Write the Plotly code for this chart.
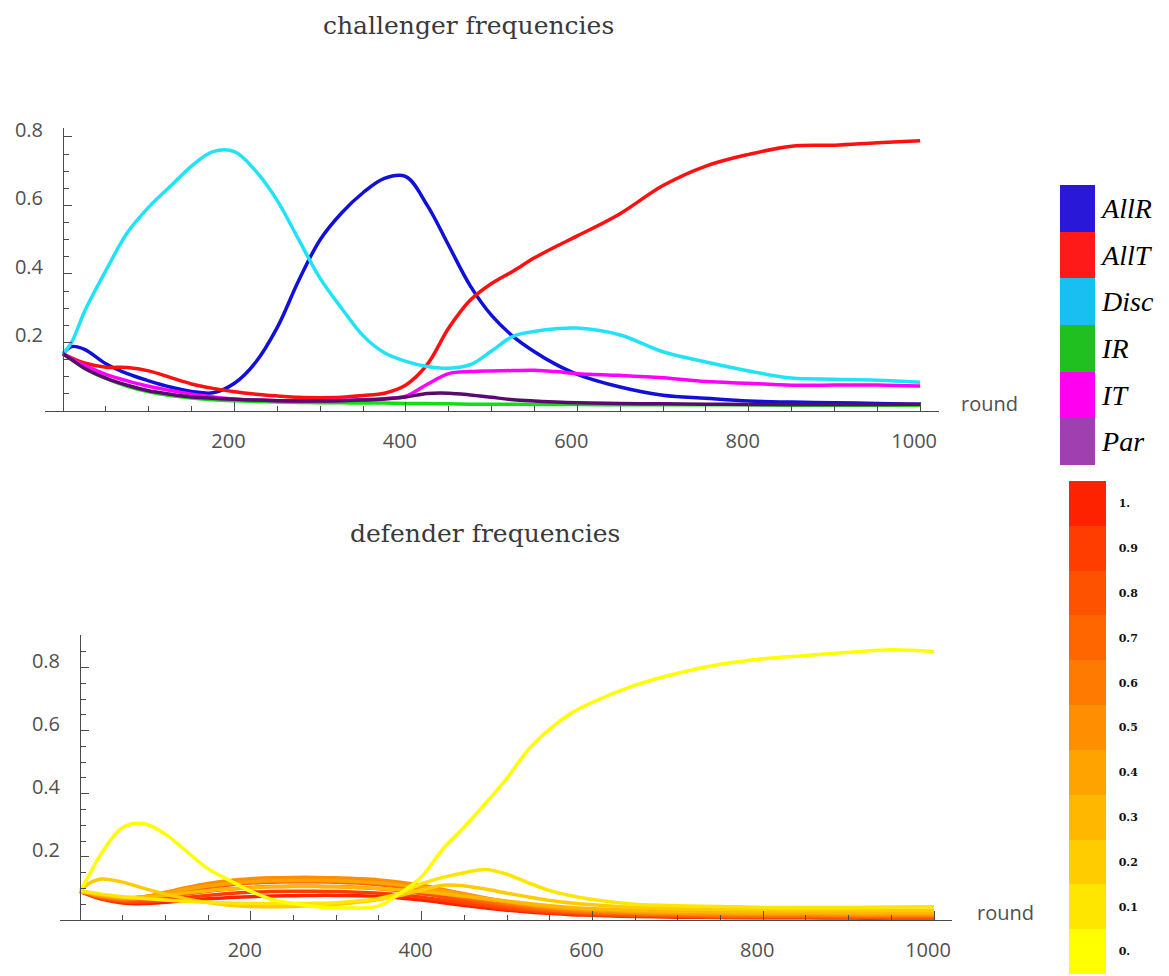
import plotly.graph_objects as go

# ---------------- data ----------------
rounds = [0, 10, 25, 50, 75, 100, 125, 150, 175, 200, 225, 250, 275, 300, 325, 350, 375,
          400, 425, 450, 475, 500, 525, 550, 575, 600, 650, 700, 750, 800, 850, 900, 950, 1000]

# challenger strategies
ch_names = ["AllR", "AllT", "Disc", "IR", "IT", "Par"]
allr = [0.167, 0.188, 0.18, 0.138, 0.109, 0.088, 0.07, 0.057, 0.053, 0.081, 0.143, 0.244, 0.381, 0.50, 0.578, 0.637, 0.679,
        0.684, 0.60, 0.483, 0.366, 0.279, 0.218, 0.173, 0.136, 0.107, 0.07, 0.046, 0.037, 0.029, 0.026, 0.024, 0.022, 0.02]
allt = [0.167, 0.155, 0.14, 0.128, 0.127, 0.117, 0.098, 0.079, 0.066, 0.056, 0.049, 0.044, 0.04, 0.039, 0.04, 0.045, 0.052,
        0.076, 0.136, 0.242, 0.323, 0.372, 0.408, 0.447, 0.48, 0.511, 0.576, 0.658, 0.715, 0.749, 0.773, 0.776, 0.783, 0.789]
disc = [0.167, 0.20, 0.29, 0.41, 0.52, 0.595, 0.655, 0.715, 0.757, 0.757, 0.70, 0.614, 0.50, 0.387, 0.30, 0.22, 0.17,
        0.145, 0.13, 0.125, 0.135, 0.175, 0.218, 0.232, 0.24, 0.242, 0.222, 0.173, 0.143, 0.117, 0.096, 0.093, 0.09, 0.084]
ir = [0.167, 0.15, 0.125, 0.095, 0.072, 0.056, 0.045, 0.038, 0.033, 0.03, 0.028, 0.026, 0.025, 0.024, 0.024, 0.023, 0.023,
      0.022, 0.022, 0.021, 0.02, 0.02, 0.02, 0.019, 0.019, 0.019, 0.018, 0.018, 0.018, 0.018, 0.017, 0.017, 0.017, 0.017]
it = [0.167, 0.152, 0.133, 0.107, 0.088, 0.072, 0.06, 0.049, 0.041, 0.035, 0.032, 0.03, 0.029, 0.03, 0.031, 0.033, 0.036,
      0.043, 0.078, 0.109, 0.115, 0.117, 0.118, 0.119, 0.115, 0.109, 0.104, 0.097, 0.086, 0.081, 0.075, 0.076, 0.076, 0.073]
par = [0.167, 0.15, 0.125, 0.096, 0.075, 0.059, 0.049, 0.041, 0.037, 0.034, 0.032, 0.03, 0.029, 0.029, 0.03, 0.032, 0.035,
       0.041, 0.051, 0.052, 0.047, 0.04, 0.033, 0.029, 0.026, 0.024, 0.022, 0.021, 0.02, 0.019, 0.019, 0.019, 0.019, 0.02]
ch_values = [allr, allt, disc, ir, it, par]
ch_line_colors = ["#1010d8", "#ff1010", "#22e2f8", "#10e010", "#ff00ff", "#5a0a6e"]
ch_legend_colors = ["#2a18d8", "#ff1a1a", "#18bff0", "#20c020", "#ff00f0", "#a040b0"]

# defender strategies, indexed by parameter p
def_params = [0.0, 0.1, 0.2, 0.3, 0.4, 0.5, 0.6, 0.7, 0.8, 0.9, 1.0]
def_tick_text = ["0.", "0.1", "0.2", "0.3", "0.4", "0.5", "0.6", "0.7", "0.8", "0.9", "1."]
def_colors = ["#ffff00", "#ffe600", "#ffcc00", "#ffb700", "#ffa300", "#ff8e00",
              "#ff7a00", "#ff6600", "#ff5200", "#ff3d00", "#ff2200"]
d00 = [0.091, 0.139, 0.211, 0.293, 0.305, 0.272, 0.217, 0.162, 0.126, 0.091, 0.065, 0.052, 0.043, 0.039, 0.038, 0.045, 0.085,
       0.137, 0.225, 0.295, 0.37, 0.45, 0.54, 0.605, 0.655, 0.69, 0.744, 0.782, 0.81, 0.828, 0.838, 0.848, 0.856, 0.851]
d01 = [0.091, 0.088, 0.082, 0.074, 0.068, 0.063, 0.059, 0.056, 0.054, 0.053, 0.052, 0.052, 0.053, 0.055, 0.06, 0.068, 0.085,
       0.115, 0.135, 0.15, 0.16, 0.145, 0.118, 0.093, 0.077, 0.065, 0.05, 0.045, 0.043, 0.04, 0.04, 0.04, 0.041, 0.042]
d02 = [0.091, 0.115, 0.13, 0.12, 0.1, 0.082, 0.067, 0.055, 0.047, 0.043, 0.042, 0.043, 0.046, 0.05, 0.056, 0.065, 0.078,
       0.095, 0.11, 0.108, 0.098, 0.085, 0.073, 0.062, 0.054, 0.048, 0.04, 0.036, 0.034, 0.033, 0.032, 0.032, 0.031, 0.031]
d03 = [0.091, 0.087, 0.08, 0.072, 0.072, 0.078, 0.086, 0.093, 0.098, 0.102, 0.105, 0.106, 0.106, 0.105, 0.103, 0.1, 0.095,
       0.09, 0.083, 0.075, 0.067, 0.06, 0.052, 0.045, 0.04, 0.036, 0.031, 0.028, 0.026, 0.025, 0.025, 0.024, 0.024, 0.024]
d04 = [0.091, 0.086, 0.078, 0.07, 0.074, 0.085, 0.098, 0.108, 0.116, 0.121, 0.124, 0.125, 0.125, 0.124, 0.121, 0.117, 0.111,
       0.103, 0.092, 0.08, 0.068, 0.058, 0.049, 0.042, 0.037, 0.033, 0.027, 0.024, 0.022, 0.021, 0.021, 0.02, 0.02, 0.02]
d05 = [0.091, 0.085, 0.076, 0.068, 0.074, 0.088, 0.103, 0.116, 0.125, 0.131, 0.134, 0.135, 0.135, 0.134, 0.131, 0.127, 0.12,
       0.11, 0.097, 0.083, 0.07, 0.058, 0.048, 0.04, 0.034, 0.03, 0.024, 0.021, 0.019, 0.018, 0.018, 0.017, 0.017, 0.017]
d06 = [0.091, 0.084, 0.074, 0.066, 0.071, 0.085, 0.1, 0.112, 0.121, 0.127, 0.13, 0.131, 0.131, 0.13, 0.127, 0.122, 0.115,
       0.104, 0.091, 0.077, 0.064, 0.053, 0.044, 0.036, 0.03, 0.026, 0.021, 0.018, 0.016, 0.015, 0.015, 0.014, 0.014, 0.014]
d07 = [0.091, 0.083, 0.072, 0.063, 0.067, 0.079, 0.092, 0.103, 0.111, 0.117, 0.12, 0.121, 0.121, 0.12, 0.117, 0.112, 0.105,
       0.095, 0.083, 0.07, 0.058, 0.048, 0.039, 0.032, 0.027, 0.023, 0.018, 0.015, 0.013, 0.012, 0.012, 0.011, 0.011, 0.011]
d08 = [0.091, 0.082, 0.07, 0.06, 0.062, 0.071, 0.082, 0.091, 0.098, 0.103, 0.106, 0.107, 0.107, 0.106, 0.103, 0.099, 0.093,
       0.084, 0.073, 0.062, 0.051, 0.042, 0.034, 0.028, 0.023, 0.02, 0.015, 0.013, 0.011, 0.01, 0.01, 0.009, 0.009, 0.009]
d09 = [0.091, 0.081, 0.068, 0.057, 0.057, 0.063, 0.071, 0.078, 0.084, 0.088, 0.09, 0.091, 0.091, 0.09, 0.088, 0.085, 0.08,
       0.072, 0.063, 0.053, 0.044, 0.036, 0.029, 0.024, 0.02, 0.017, 0.013, 0.011, 0.009, 0.008, 0.008, 0.008, 0.007, 0.007]
d10 = [0.091, 0.08, 0.066, 0.054, 0.052, 0.056, 0.062, 0.067, 0.071, 0.074, 0.076, 0.077, 0.078, 0.078, 0.077, 0.075, 0.07,
       0.063, 0.055, 0.046, 0.038, 0.031, 0.025, 0.021, 0.017, 0.015, 0.011, 0.009, 0.008, 0.007, 0.007, 0.006, 0.006, 0.006]
def_values = [d00, d01, d02, d03, d04, d05, d06, d07, d08, d09, d10]

x_major = [200, 400, 600, 800, 1000]
x_minor = [50 * k for k in range(1, 21)]
y_major_top = [0.2, 0.4, 0.6, 0.8]
y_minor_top = [0.05 * k for k in range(1, 16)]
y_major_bot = [0.2, 0.4, 0.6, 0.8]
y_minor_bot = [0.05 * k for k in range(1, 18)]

# ---------------- layout helpers ----------------
W, H = 1169, 976
def fx(p):
    return p / W
def fy(p):
    return 1 - p / H

AX = "#4a4a4a"
TICKFONT = dict(family="Open Sans", size=20, color="#505050")
SMOOTH = 1.0

fig = go.Figure()

for name, vals, col in zip(ch_names, ch_values, ch_line_colors):
    fig.add_trace(go.Scatter(x=rounds, y=vals, mode="lines", name=name,
                             line=dict(color=col, width=3.5, shape="spline", smoothing=SMOOTH),
                             xaxis="x", yaxis="y", hoverinfo="skip"))

# category colour key for the challenger chart
n = len(ch_names)
cs_top = []
for k in range(n):
    c = ch_legend_colors[n - 1 - k]
    cs_top.append([k / n, c])
    cs_top.append([(k + 1) / n, c])
fig.add_trace(go.Scatter(
    x=[rounds[0]] * n, y=[v[0] for v in ch_values], mode="markers", hoverinfo="skip",
    marker=dict(size=1, opacity=0, color=[n - 1 - i for i in range(n)], colorscale=cs_top,
                cmin=-0.5, cmax=n - 0.5, showscale=True,
                colorbar=dict(x=fx(1060), xanchor="left", y=fy(325), yanchor="middle",
                              len=280, lenmode="pixels", thickness=35, thicknessmode="pixels",
                              xpad=0, ypad=0, outlinewidth=0,
                              tickvals=[n - 1 - i for i in range(n)], ticktext=ch_names,
                              ticks="outside", ticklen=2, tickcolor="rgba(0,0,0,0)",
                              tickfont=dict(family="Liberation Serif", size=28, style="italic", color="#000"))),
    xaxis="x", yaxis="y"))

order = list(range(len(def_params)))[::-1]
for i in order:
    fig.add_trace(go.Scatter(x=rounds, y=def_values[i], mode="lines", name=def_tick_text[i],
                             line=dict(color=def_colors[i], width=3.5, shape="spline", smoothing=SMOOTH),
                             xaxis="x2", yaxis="y2", hoverinfo="skip"))

m = len(def_params)
cs_bot = []
for k in range(m):
    cs_bot.append([k / m, def_colors[k]])
    cs_bot.append([(k + 1) / m, def_colors[k]])
fig.add_trace(go.Scatter(
    x=[rounds[0]] * m, y=[v[0] for v in def_values], mode="markers", hoverinfo="skip",
    marker=dict(size=1, opacity=0, color=def_params, colorscale=cs_bot,
                cmin=-0.05, cmax=1.05, showscale=True,
                colorbar=dict(x=fx(1069), xanchor="left", y=fy(727.5), yanchor="middle",
                              len=493, lenmode="pixels", thickness=37, thicknessmode="pixels",
                              xpad=0, ypad=0, outlinewidth=0,
                              tickvals=def_params, ticktext=def_tick_text,
                              ticks="outside", ticklen=11, tickcolor="rgba(0,0,0,0)",
                              tickfont=dict(family="DejaVu Serif", size=11, weight="bold", color="#111"))),
    xaxis="x2", yaxis="y2"))

def xaxis_cfg(domain, rng):
    return dict(domain=domain, range=rng, showgrid=False, zeroline=False, automargin=False,
                showline=True, linecolor=AX, linewidth=1,
                ticks="inside", ticklen=9, tickcolor=AX, tickwidth=1,
                tickmode="array", tickvals=x_major, ticktext=[str(v) for v in x_major],
                minor=dict(tickmode="array", tickvals=x_minor, ticks="inside", ticklen=5,
                           tickcolor=AX, tickwidth=1, showgrid=False),
                tickfont=TICKFONT, ticklabelstandoff=12, ticklabelshift=-6, fixedrange=True)

def yaxis_cfg(domain, rng, pos, major, minor):
    return dict(domain=domain, range=rng, anchor="free", position=pos, side="left",
                showgrid=False, zeroline=False, automargin=False,
                showline=True, linecolor=AX, linewidth=1,
                ticks="inside", ticklen=8, tickcolor=AX, tickwidth=1,
                tickmode="array", tickvals=major, ticktext=[f"{v:.1f}" for v in major],
                minor=dict(tickmode="array", tickvals=minor, ticks="inside", ticklen=5,
                           tickcolor=AX, tickwidth=1, showgrid=False),
                tickfont=TICKFONT, ticklabelstandoff=16, ticklabelshift=-7, fixedrange=True)

fig.update_layout(
    width=W, height=H, margin=dict(l=0, r=0, t=0, b=0, autoexpand=False),
    paper_bgcolor="white", plot_bgcolor="white", showlegend=False,
    xaxis=dict(xaxis_cfg([fx(45), fx(939)], [-21, 1022]), anchor="y"),
    yaxis=yaxis_cfg([fy(411), fy(128)], [0, 0.826], fx(63), y_major_top, y_minor_top),
    xaxis2=dict(xaxis_cfg([fx(60), fx(952)], [-23.4, 1021]), anchor="y2"),
    yaxis2=yaxis_cfg([fy(920), fy(635)], [0, 0.903], fx(80), y_major_bot, y_minor_bot),
    annotations=[
        dict(text="challenger frequencies", x=fx(468), y=fy(25), xref="paper", yref="paper",
             xanchor="center", yanchor="middle", showarrow=False,
             font=dict(family="DejaVu Serif", size=25, color="#3a3a3a")),
        dict(text="defender frequencies", x=fx(485), y=fy(533), xref="paper", yref="paper",
             xanchor="center", yanchor="middle", showarrow=False,
             font=dict(family="DejaVu Serif", size=25, color="#3a3a3a")),
        dict(text="round", x=fx(959), y=fy(404), xref="paper", yref="paper",
             xanchor="left", yanchor="middle", showarrow=False, font=TICKFONT),
        dict(text="round", x=fx(975), y=fy(912), xref="paper", yref="paper",
             xanchor="left", yanchor="middle", showarrow=False, font=TICKFONT),
    ],
)

fig.write_html("out.html", config={"displayModeBar": False},
               post_script=["document.body.style.margin='0';document.body.style.overflow='hidden';"])
